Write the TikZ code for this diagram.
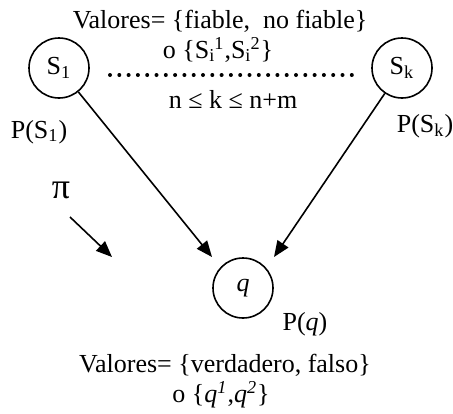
\documentclass[tikz,border=0pt]{standalone}
\usepackage{fontspec}
\setmainfont{Liberation Serif}
\usepackage{tikz}
\usetikzlibrary{arrows.meta, calc}

% S con subindice i y superindice
\newcommand{\Ssi}[1]{S\textsubscript{i}\kern-0.5pt\textsuperscript{#1}}

\tikzset{
  estado/.style={draw, circle, thick, minimum size=30pt, inner sep=0pt},
  etiqueta/.style={anchor=base, inner sep=0pt}
}

\begin{document}
\begin{tikzpicture}[x=0.5pt, y=-0.5pt, thick, >={Triangle[length=8pt,width=6.5pt]},
    font=\fontsize{13}{15}\selectfont]
        \useasboundingbox (0,0) rectangle (453,413);

        % nodos de las fuentes y de la consulta
        \node[estado] (s1) at (59,68) {S\textsubscript{1}};
        \node[estado] (sk) at (402,68) {S\textsubscript{k}};
        \node[estado] (q) at (243,288) {\textit{q}};

        % valores de las fuentes
        \node[etiqueta] (valS) at (220,28) {Valores= \{fiable,\ \ no fiable\}};
        \node[etiqueta] (valSi) at (218,58) {o \{\Ssi{1},\Ssi{2}\}};
        \node[etiqueta] (rango) at (233,108) {n ≤ k ≤ n+m};

        % puntos suspensivos entre S_1 y S_k
        \draw[line width=2pt, line cap=round, dash pattern=on 0pt off 4.65pt] (110,75) -- (352,75);

        % probabilidades
        \node[etiqueta] (ps1) at (39,138) {P(S\textsubscript{1})};
        \node[etiqueta] (psk) at (425,132) {P(S\textsubscript{k})};
        \node[etiqueta] (pq) at (305,330) {P(\textit{q})};

        % valores de la consulta
        \node[etiqueta] (valq) at (225,372) {Valores= \{verdadero, falso\}};
        \node[etiqueta] (valqi) at (221,402) {o \{\textit{q\textsuperscript{1}},\textit{q\textsuperscript{2}}\}};

        % flechas hacia q
        \coordinate (qizq) at ($(q)+(-31,-31)$);
        \coordinate (qder) at ($(q)+(31,-31)$);
        \draw[->] (s1) -- (qizq);
        \draw[->] (sk) -- (qder);

        % pi y su flecha
        \node[font=\fontsize{18}{20}\selectfont] (pi) at (61,190) {π};
        \coordinate (piini) at (70,217);
        \coordinate (pifin) at (112,257);
        \draw[->] (piini) -- (pifin);

\end{tikzpicture}
\end{document}
